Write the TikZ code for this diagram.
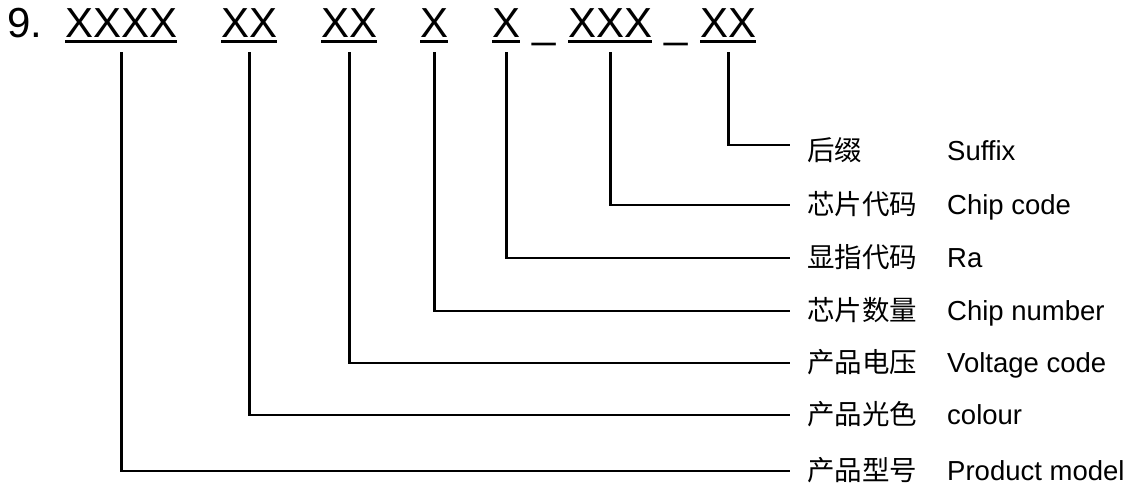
\documentclass[tikz,border=0pt]{standalone}
\usepackage{fontspec}
\setmainfont{Liberation Sans}
\newfontfamily\cjk{Noto Sans CJK SC}
\usetikzlibrary{positioning}

\begin{document}
\begin{tikzpicture}[x=1pt, y=-1pt,
    code/.style={font=\fontsize{42}{50}\selectfont, inner sep=0pt, anchor=base west},
    uline/.style={line width=2.7pt},
    wire/.style={line width=2.7pt},
    cnlabel/.style={font=\cjk\fontsize{27.5}{30}\selectfont, inner sep=0pt,
                    anchor=west, text height=18pt, text depth=0pt},
    enlabel/.style={font=\fontsize{27.5}{30}\selectfont, inner sep=0pt, anchor=base west}
  ]
    \useasboundingbox (0,0) rectangle (1132,490);

    % code segments
    \node[code] (nine) at (7,37) {9.};
    \node[code] (model) at (65,37) {XXXX};
    \node[code] (colour) at (221,37) {XX};
    \node[code] (volt) at (321,37) {XX};
    \node[code] (num) at (420,37) {X};
    \node[code] (ra) at (492,37) {X};
    \node[code] (sepa) at (532,37) {\_};
    \node[code] (chip) at (568,37) {XXX};
    \node[code] (sepb) at (664,37) {\_};
    \node[code] (suffix) at (700,37) {XX};

    \draw[uline] ([yshift=-4.5pt]model.base west) -- ([yshift=-4.5pt]model.base east);
    \draw[uline] ([yshift=-4.5pt]colour.base west) -- ([yshift=-4.5pt]colour.base east);
    \draw[uline] ([yshift=-4.5pt]volt.base west) -- ([yshift=-4.5pt]volt.base east);
    \draw[uline] ([yshift=-4.5pt]num.base west) -- ([yshift=-4.5pt]num.base east);
    \draw[uline] ([yshift=-4.5pt]ra.base west) -- ([yshift=-4.5pt]ra.base east);
    \draw[uline] ([yshift=-4.5pt]chip.base west) -- ([yshift=-4.5pt]chip.base east);
    \draw[uline] ([yshift=-4.5pt]suffix.base west) -- ([yshift=-4.5pt]suffix.base east);

    % labels
    \node[cnlabel] (cnsuffix) at (807,151) {后缀};
    \node[cnlabel] (cnchip) at (807,205) {芯片代码};
    \node[cnlabel] (cnra) at (807,258) {显指代码};
    \node[cnlabel] (cnnum) at (807,311) {芯片数量};
    \node[cnlabel] (cnvolt) at (807,363) {产品电压};
    \node[cnlabel] (cncolour) at (807,415) {产品光色};
    \node[cnlabel] (cnmodel) at (807,471) {产品型号};

    \node[enlabel] (ensuffix) at (947,0 |- cnsuffix.base) {Suffix};
    \node[enlabel] (enchip) at (947,0 |- cnchip.base) {Chip code};
    \node[enlabel] (enra) at (947,0 |- cnra.base) {Ra};
    \node[enlabel] (ennum) at (947,0 |- cnnum.base) {Chip number};
    \node[enlabel] (envolt) at (947,0 |- cnvolt.base) {Voltage code};
    \node[enlabel] (encolour) at (947,0 |- cncolour.base) {colour};
    \node[enlabel] (enmodel) at (947,0 |- cnmodel.base) {Product model};

    % connectors
    \draw[wire] ([yshift=-15pt]suffix.base) |- ([xshift=-17pt,yshift=6pt]cnsuffix.west);
    \draw[wire] ([yshift=-15pt]chip.base) |- ([xshift=-17pt]cnchip.west);
    \draw[wire] ([yshift=-15pt]ra.base) |- ([xshift=-17pt]cnra.west);
    \draw[wire] ([yshift=-15pt]num.base) |- ([xshift=-17pt]cnnum.west);
    \draw[wire] ([yshift=-15pt]volt.base) |- ([xshift=-17pt]cnvolt.west);
    \draw[wire] ([yshift=-15pt]colour.base) |- ([xshift=-17pt]cncolour.west);
    \draw[wire] ([yshift=-15pt]model.base) |- ([xshift=-17pt]cnmodel.west);
\end{tikzpicture}
\end{document}
